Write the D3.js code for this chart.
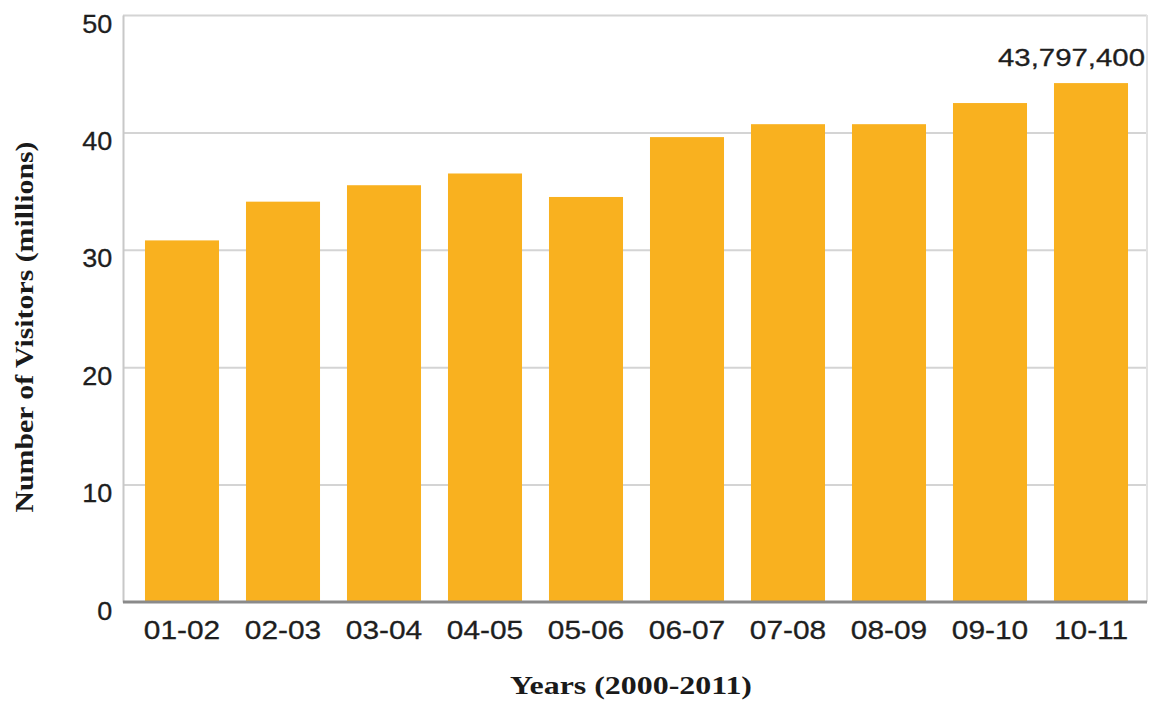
<!DOCTYPE html>
<html>
<head>
<meta charset="utf-8">
<script src="https://cdn.jsdelivr.net/npm/d3@7"></script>
<style>
  html, body { margin: 0; padding: 0; background: #fff; }
  svg { display: block; }
</style>
</head>
<body>
<div id="chart"></div>
<script>
const categories = ["01-02","02-03","03-04","04-05","05-06","06-07","07-08","08-09","09-10","10-11"];
const visitors = [30.8, 34.1, 35.5, 36.5, 34.5, 39.6, 40.7, 40.7, 42.5, 44.2];
const yTicks = [0, 10, 20, 30, 40, 50];
const annotationText = "43,797,400";
const xTitle = "Years (2000-2011)";
const yTitle = "Number of Visitors (millions)";

const W = 1151, H = 702;
const plot = { left: 123, right: 1147, top: 15, bottom: 602 };

const svg = d3.select("#chart").append("svg").attr("width", W).attr("height", H);

const y = d3.scaleLinear().domain([0, 50]).range([plot.bottom, plot.top]);
const x = d3.scaleBand().domain(categories)
  .range([131.5, 1141.5]).paddingInner(0.267).paddingOuter(0.1335);

// gridlines
const grid = svg.append("g")
  .attr("transform", `translate(${plot.left},0)`)
  .call(d3.axisLeft(y).tickValues(yTicks.filter(d => d > 0)).tickSize(-(plot.right - plot.left)).tickFormat(""));
grid.select(".domain").remove();
grid.selectAll("line").attr("stroke", "#d4d4d4").attr("stroke-width", 2);

// frame right
svg.append("line").attr("x1", plot.right).attr("x2", plot.right)
  .attr("y1", plot.top).attr("y2", plot.bottom)
  .attr("stroke", "#e2e2e2").attr("stroke-width", 2);

// bars
svg.append("g").selectAll("rect").data(visitors).join("rect")
  .attr("x", (d, i) => x(categories[i]))
  .attr("width", x.bandwidth())
  .attr("y", d => y(d))
  .attr("height", d => y(0) - y(d))
  .attr("fill", "#F9B11F");

// left axis with labels
const yAxis = svg.append("g")
  .attr("transform", `translate(${plot.left},0)`)
  .call(d3.axisLeft(y).tickValues(yTicks).tickSize(0).tickPadding(10));
yAxis.select(".domain").attr("stroke", "#c8c8c8").attr("stroke-width", 2);
yAxis.selectAll("text")
  .attr("font-family", "Liberation Sans, Arial, sans-serif")
  .attr("font-size", 25).attr("fill", "#1e1e1e")
  .attr("stroke", "#1e1e1e").attr("stroke-width", 0.3)
  .attr("dy", "0.32em").attr("y", 9)
  .attr("transform", "scale(1.08,1)");

// bottom axis
const xAxis = svg.append("g")
  .attr("transform", `translate(0,${plot.bottom})`)
  .call(d3.axisBottom(x).tickSize(0).tickPadding(19));
xAxis.select(".domain").attr("stroke", "#8a8a8a").attr("stroke-width", 3)
  .attr("d", `M${plot.left},0H${plot.right}`);
xAxis.selectAll("text")
  .attr("font-family", "Liberation Sans, Arial, sans-serif")
  .attr("font-size", 26).attr("fill", "#1e1e1e")
  .attr("stroke", "#1e1e1e").attr("stroke-width", 0.3)
  .attr("transform", "scale(1.15,1)");

// annotation on last bar
svg.append("text")
  .attr("x", 1145).attr("y", 66)
  .attr("text-anchor", "end")
  .attr("font-family", "Liberation Sans, Arial, sans-serif")
  .attr("font-size", 24).attr("fill", "#1e1e1e")
  .attr("stroke", "#1e1e1e").attr("stroke-width", 0.3)
  .attr("textLength", 147).attr("lengthAdjust", "spacingAndGlyphs")
  .text(annotationText);

// axis titles
svg.append("text")
  .attr("x", 631).attr("y", 694)
  .attr("text-anchor", "middle")
  .attr("font-family", "Liberation Serif, Times New Roman, serif")
  .attr("font-weight", "bold").attr("font-size", 26).attr("fill", "#1a1a1a")
  .attr("textLength", 242).attr("lengthAdjust", "spacingAndGlyphs")
  .text(xTitle);

svg.append("text")
  .attr("transform", "translate(33,327) rotate(-90)")
  .attr("text-anchor", "middle")
  .attr("font-family", "Liberation Serif, Times New Roman, serif")
  .attr("font-weight", "bold").attr("font-size", 25).attr("fill", "#1a1a1a")
  .attr("textLength", 371).attr("lengthAdjust", "spacingAndGlyphs")
  .text(yTitle);
</script>
</body>
</html>
